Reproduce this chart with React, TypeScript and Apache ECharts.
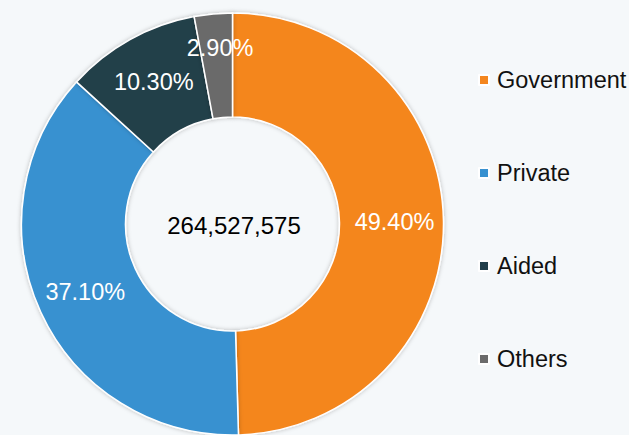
import React, { useEffect, useRef } from "react";
import * as echarts from "echarts";

const categories = ["Government", "Private", "Aided", "Others"];
const shares = [49.4, 37.1, 10.3, 2.9];
const totalSchools = "264,527,575";
const palette = ["#F4861F", "#3891D0", "#243F4A", "#6B6B6B"];

const FONT = "'Liberation Sans', Arial, sans-serif";

export default function App() {
  const ref = useRef<HTMLDivElement>(null);

  useEffect(() => {
    if (!ref.current) return;
    const chart = echarts.init(ref.current, undefined, { renderer: "svg" });
    const data = categories.map((name, i) => {
      const item: any = {
        name,
        value: shares[i],
        itemStyle: { color: palette[i] },
      };
      if (name === "Others") {
        // small slice: its label sits above the slice and overflows it
        item.label = { position: "outside", distanceToLabelLine: 5 };
        item.labelLine = { show: false, length: -34, length2: -42 };
      }
      return item;
    });
    chart.setOption({
      animation: false,
      backgroundColor: "#F5F8FA",
      legend: {
        orient: "vertical",
        left: 478,
        top: 68,
        padding: 0,
        itemWidth: 10,
        itemHeight: 10,
        itemGap: 69,
        icon: "rect",
        selectedMode: false,
        data: categories,
        textStyle: {
          fontFamily: FONT,
          fontSize: 23.5,
          lineHeight: 24,
          color: "#111111",
          padding: [0, 0, 0, 3],
        },
      },
      graphic: [
        {
          type: "text",
          x: 234,
          y: 225,
          style: {
            text: totalSchools,
            fontFamily: FONT,
            fontSize: 24,
            fill: "#000000",
            align: "center",
            verticalAlign: "middle",
          },
          z: 100,
        },
      ],
      series: [
        {
          type: "pie",
          center: [232.5, 224],
          radius: [107, 211],
          startAngle: 90,
          clockwise: true,
          avoidLabelOverlap: false,
          itemStyle: {
            borderColor: "#FFFFFF",
            borderWidth: 1.5,
            shadowBlur: 4,
            shadowColor: "rgba(0,0,0,0.25)",
          },
          label: {
            show: true,
            position: "inside",
            formatter: (p: any) => `${Number(p.value).toFixed(2)}%`,
            color: "#FFFFFF",
            fontFamily: FONT,
            fontSize: 23.5,
          },
          labelLine: { show: false },
          emphasis: { disabled: true },
          data,
        },
      ],
    });
    return () => chart.dispose();
  }, []);

  return (
    <div
      ref={ref}
      style={{ position: "fixed", left: 0, top: 0, width: 629, height: 435 }}
    />
  );
}
